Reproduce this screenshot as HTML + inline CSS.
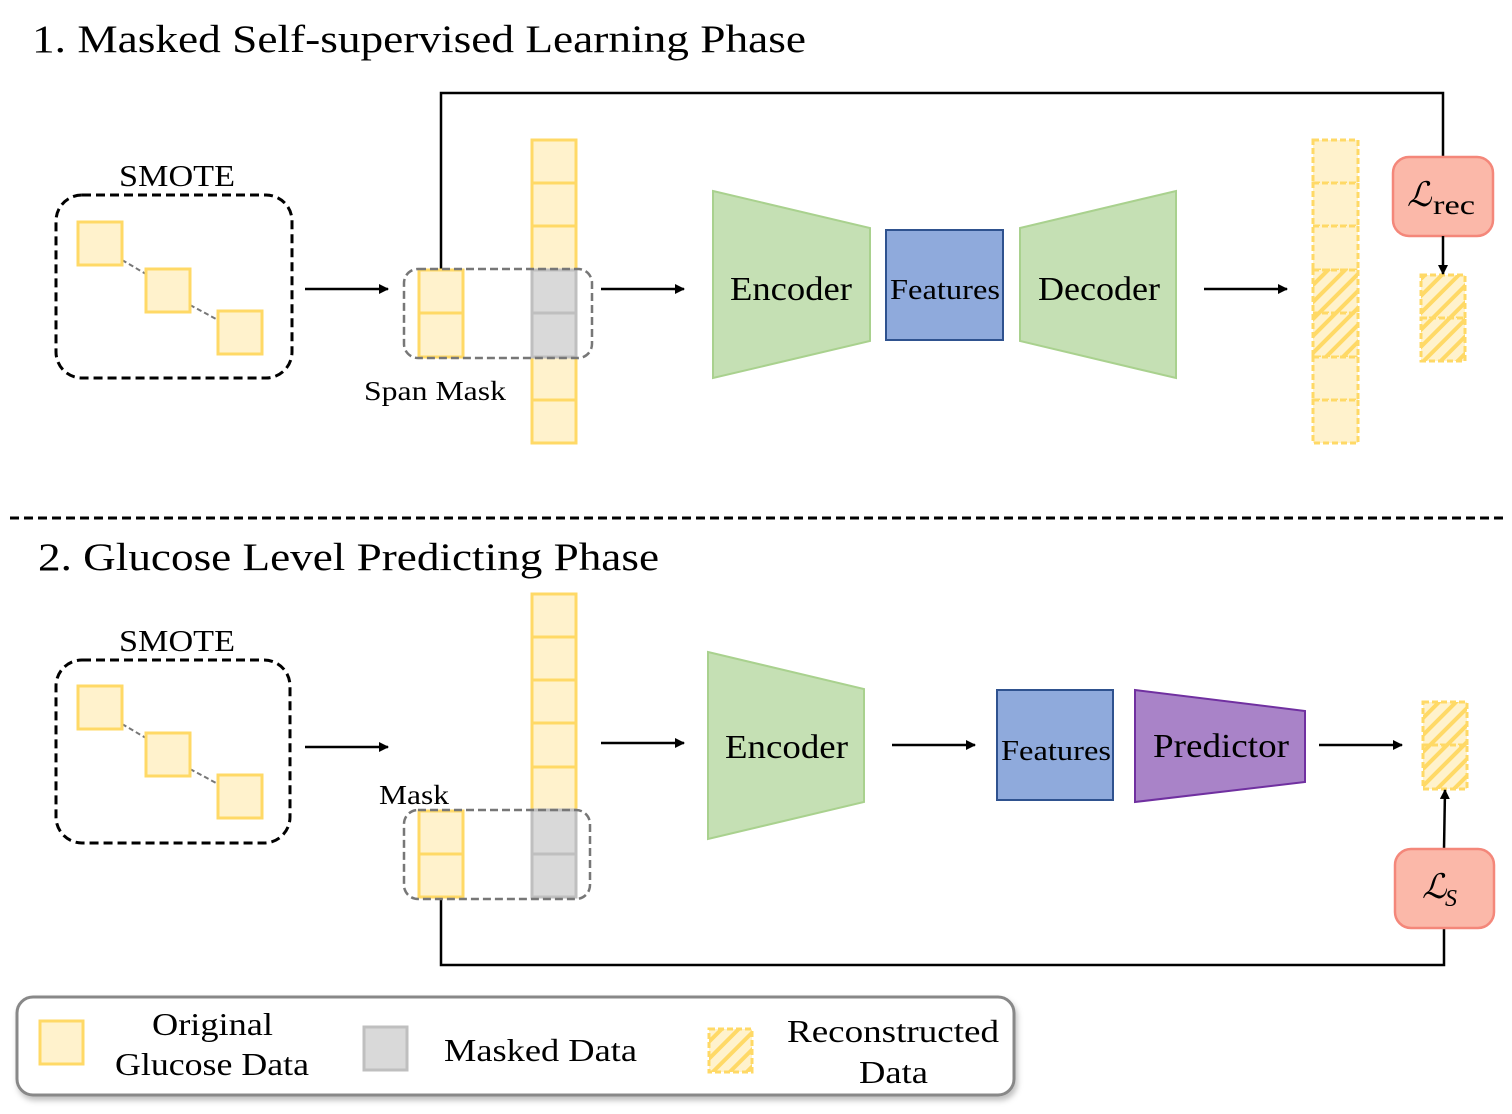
<!DOCTYPE html>
<html><head><meta charset="utf-8"><style>
html,body{margin:0;padding:0;background:#fff;width:1512px;height:1114px;overflow:hidden}
text{font-family:"Liberation Serif",serif;fill:#000}
</style></head><body>
<svg width="1512" height="1114" viewBox="0 0 1512 1114" xmlns="http://www.w3.org/2000/svg">
<defs>
<pattern id="h" patternUnits="userSpaceOnUse" width="12" height="12" patternTransform="rotate(45)">
<rect width="12" height="12" fill="#fff2cc"/><rect width="4" height="12" fill="#ffd966"/>
</pattern>
<marker id="a" markerWidth="10" markerHeight="10" refX="9" refY="5" orient="auto" markerUnits="userSpaceOnUse"><path d="M0,0 L10,5 L0,10 z" fill="#000"/></marker>
<filter id="sh" x="-5%" y="-20%" width="110%" height="150%"><feDropShadow dx="2" dy="4" stdDeviation="3" flood-color="#000" flood-opacity="0.25"/></filter>
</defs>

<!-- Phase 1 -->
<text x="32" y="52" font-size="39" textLength="774" lengthAdjust="spacingAndGlyphs">1. Masked Self-supervised Learning Phase</text>
<text x="119" y="186" font-size="31" textLength="116" lengthAdjust="spacingAndGlyphs">SMOTE</text>
<rect x="56" y="195" width="236" height="183" rx="26" fill="none" stroke="#000" stroke-width="3" stroke-dasharray="9,5"/>
<line x1="122" y1="260" x2="146" y2="274" stroke="#777" stroke-width="2" stroke-dasharray="5,3"/>
<line x1="190" y1="305" x2="218" y2="320" stroke="#777" stroke-width="2" stroke-dasharray="5,3"/>
<g fill="#fff2cc" stroke="#ffd966" stroke-width="3">
<rect x="78" y="222" width="44" height="43"/><rect x="146" y="269" width="44" height="43"/><rect x="218" y="311" width="44" height="43"/>
</g>
<line x1="305" y1="289" x2="388" y2="289" stroke="#000" stroke-width="2.5" marker-end="url(#a)"/>
<polyline points="441,270 441,93 1443,93 1443,157" fill="none" stroke="#000" stroke-width="2.5"/>
<g fill="#fff2cc" stroke="#ffd966" stroke-width="3">
<rect x="532" y="140" width="44" height="43"/><rect x="532" y="183" width="44" height="43"/><rect x="532" y="226" width="44" height="44"/>
<rect x="532" y="357" width="44" height="43"/><rect x="532" y="400" width="44" height="43"/>
<rect x="419" y="270" width="44" height="43"/><rect x="419" y="313" width="44" height="44"/>
</g>
<g fill="#d9d9d9" stroke="#bfbfbf" stroke-width="3"><rect x="532" y="270" width="44" height="43"/><rect x="532" y="313" width="44" height="44"/></g>
<rect x="404" y="269" width="188" height="89" rx="14" fill="none" stroke="#777" stroke-width="2.5" stroke-dasharray="8,4"/>
<text x="364" y="400" font-size="27" textLength="142" lengthAdjust="spacingAndGlyphs">Span Mask</text>
<line x1="601" y1="289" x2="684" y2="289" stroke="#000" stroke-width="2.5" marker-end="url(#a)"/>
<polygon points="713,191 870,228 870,341 713,378" fill="#c5e0b4" stroke="#a9d18e" stroke-width="2"/>
<text x="730" y="300" font-size="34" textLength="122" lengthAdjust="spacingAndGlyphs">Encoder</text>
<rect x="886" y="230" width="117" height="110" fill="#8faadc" stroke="#2f528f" stroke-width="2"/>
<text x="890" y="299" font-size="28" textLength="110" lengthAdjust="spacingAndGlyphs">Features</text>
<polygon points="1020,228 1176,191 1176,378 1020,341" fill="#c5e0b4" stroke="#a9d18e" stroke-width="2"/>
<text x="1038" y="300" font-size="34" textLength="122" lengthAdjust="spacingAndGlyphs">Decoder</text>
<line x1="1204" y1="289" x2="1287" y2="289" stroke="#000" stroke-width="2.5" marker-end="url(#a)"/>
<g stroke="#ffd966" stroke-width="3" stroke-dasharray="6,3">
<rect x="1313" y="140" width="45" height="43" fill="#fff2cc"/><rect x="1313" y="183" width="45" height="43" fill="#fff2cc"/><rect x="1313" y="226" width="45" height="44" fill="#fff2cc"/>
<rect x="1313" y="270" width="45" height="43" fill="url(#h)"/><rect x="1313" y="313" width="45" height="44" fill="url(#h)"/>
<rect x="1313" y="357" width="45" height="43" fill="#fff2cc"/><rect x="1313" y="400" width="45" height="43" fill="#fff2cc"/>
<rect x="1421" y="275" width="44" height="43" fill="url(#h)"/><rect x="1421" y="318" width="44" height="43" fill="url(#h)"/>
</g>
<rect x="1393" y="157" width="100" height="79" rx="16" fill="#fbb8a9" stroke="#f4877a" stroke-width="2.5"/>
<text x="1407" y="206" font-size="34" font-style="italic">ℒ</text><text x="1433" y="214" font-size="27" textLength="42" lengthAdjust="spacingAndGlyphs">rec</text>
<line x1="1443" y1="236" x2="1443" y2="274" stroke="#000" stroke-width="2.5" marker-end="url(#a)"/>

<line x1="10" y1="518" x2="1505" y2="518" stroke="#000" stroke-width="3" stroke-dasharray="9,5"/>

<!-- Phase 2 -->
<text x="38" y="570" font-size="39" textLength="621" lengthAdjust="spacingAndGlyphs">2. Glucose Level Predicting Phase</text>
<text x="119" y="651" font-size="31" textLength="116" lengthAdjust="spacingAndGlyphs">SMOTE</text>
<rect x="56" y="660" width="234" height="183" rx="26" fill="none" stroke="#000" stroke-width="3" stroke-dasharray="9,5"/>
<line x1="122" y1="724" x2="146" y2="738" stroke="#777" stroke-width="2" stroke-dasharray="5,3"/>
<line x1="190" y1="769" x2="218" y2="784" stroke="#777" stroke-width="2" stroke-dasharray="5,3"/>
<g fill="#fff2cc" stroke="#ffd966" stroke-width="3">
<rect x="78" y="686" width="44" height="43"/><rect x="146" y="733" width="44" height="43"/><rect x="218" y="775" width="44" height="43"/>
</g>
<line x1="305" y1="747" x2="388" y2="747" stroke="#000" stroke-width="2.5" marker-end="url(#a)"/>
<polyline points="441,899 441,965 1444,965 1444,928" fill="none" stroke="#000" stroke-width="2.5"/>
<g fill="#fff2cc" stroke="#ffd966" stroke-width="3">
<rect x="532" y="594" width="44" height="43"/><rect x="532" y="637" width="44" height="43"/><rect x="532" y="680" width="44" height="43"/>
<rect x="532" y="723" width="44" height="44"/><rect x="532" y="767" width="44" height="43"/>
<rect x="419" y="811" width="44" height="43"/><rect x="419" y="854" width="44" height="43"/>
</g>
<g fill="#d9d9d9" stroke="#bfbfbf" stroke-width="3"><rect x="532" y="810" width="44" height="44"/><rect x="532" y="854" width="44" height="43"/></g>
<rect x="404" y="810" width="186" height="89" rx="14" fill="none" stroke="#777" stroke-width="2.5" stroke-dasharray="8,4"/>
<text x="379" y="804" font-size="27" textLength="70" lengthAdjust="spacingAndGlyphs">Mask</text>
<line x1="601" y1="743" x2="684" y2="743" stroke="#000" stroke-width="2.5" marker-end="url(#a)"/>
<polygon points="708,652 864,689 864,802 708,839" fill="#c5e0b4" stroke="#a9d18e" stroke-width="2"/>
<text x="725" y="758" font-size="34" textLength="123" lengthAdjust="spacingAndGlyphs">Encoder</text>
<line x1="892" y1="745" x2="975" y2="745" stroke="#000" stroke-width="2.5" marker-end="url(#a)"/>
<rect x="997" y="690" width="116" height="110" fill="#8faadc" stroke="#2f528f" stroke-width="2"/>
<text x="1001" y="760" font-size="28" textLength="110" lengthAdjust="spacingAndGlyphs">Features</text>
<polygon points="1135,690 1305,711 1305,782 1135,802" fill="#a983c8" stroke="#7030a0" stroke-width="2"/>
<text x="1153" y="757" font-size="34" textLength="136" lengthAdjust="spacingAndGlyphs">Predictor</text>
<line x1="1319" y1="745" x2="1402" y2="745" stroke="#000" stroke-width="2.5" marker-end="url(#a)"/>
<g stroke="#ffd966" stroke-width="3" stroke-dasharray="6,3">
<rect x="1423" y="702" width="44" height="43" fill="url(#h)"/><rect x="1423" y="745" width="44" height="44" fill="url(#h)"/>
</g>
<line x1="1444" y1="849" x2="1445" y2="790" stroke="#000" stroke-width="2.5" marker-end="url(#a)"/>
<rect x="1395" y="849" width="99" height="79" rx="16" fill="#fbb8a9" stroke="#f4877a" stroke-width="2.5"/>
<text x="1422" y="898" font-size="34" font-style="italic">ℒ</text><text x="1445" y="906" font-size="24" font-style="italic">S</text>

<!-- Legend -->
<rect x="17" y="997" width="997" height="98" rx="16" fill="#fff" stroke="#888" stroke-width="3" filter="url(#sh)"/>
<rect x="40" y="1021" width="43" height="43" fill="#fff2cc" stroke="#ffd966" stroke-width="3"/>
<text x="152" y="1035" font-size="32" textLength="121" lengthAdjust="spacingAndGlyphs">Original</text>
<text x="115" y="1075" font-size="32" textLength="194" lengthAdjust="spacingAndGlyphs">Glucose Data</text>
<rect x="364" y="1027" width="43" height="43" fill="#d9d9d9" stroke="#bfbfbf" stroke-width="3"/>
<text x="444" y="1061" font-size="32" textLength="193" lengthAdjust="spacingAndGlyphs">Masked Data</text>
<rect x="709" y="1029" width="43" height="43" fill="url(#h)" stroke="#ffd966" stroke-width="3" stroke-dasharray="6,3"/>
<text x="787" y="1042" font-size="32" textLength="212" lengthAdjust="spacingAndGlyphs">Reconstructed</text>
<text x="859" y="1083" font-size="32" textLength="69" lengthAdjust="spacingAndGlyphs">Data</text>
</svg>
</body></html>
